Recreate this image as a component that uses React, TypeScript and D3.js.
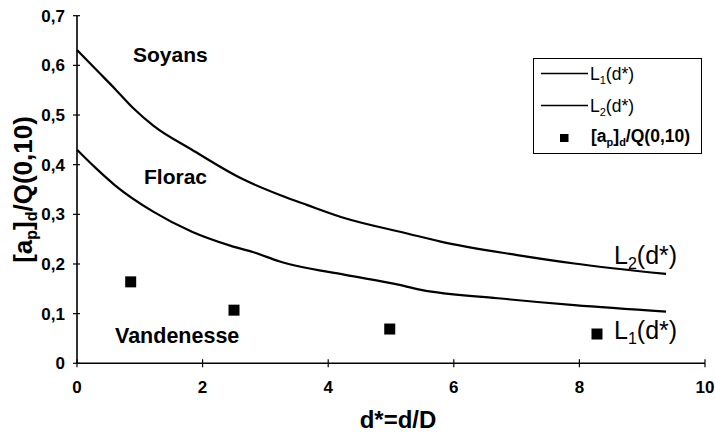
import React from "react";
import * as d3 from "d3";

const xTicks = [0, 2, 4, 6, 8, 10];
const yTicks = [0, 0.1, 0.2, 0.3, 0.4, 0.5, 0.6, 0.7];
const yTickLabels = ["0", "0,1", "0,2", "0,3", "0,4", "0,5", "0,6", "0,7"];

const l2X = [0, 0.3, 0.61, 0.91, 1.22, 1.83, 2.62, 3.23, 3.66, 4.27, 5.24, 5.79, 7.01, 7.92, 9.38];
const l2Y = [0.631, 0.592, 0.552, 0.512, 0.478, 0.43, 0.372, 0.339, 0.319, 0.292, 0.262, 0.245, 0.218, 0.201, 0.18];

const l1X = [0, 0.3, 0.61, 1.22, 1.83, 2.44, 2.8, 3.23, 4.27, 5.06, 5.48, 6.7, 7.92, 9.38];
const l1Y = [0.43, 0.393, 0.358, 0.305, 0.265, 0.237, 0.224, 0.205, 0.178, 0.16, 0.148, 0.131, 0.117, 0.104];

const ptX = [0.855, 2.5, 4.98, 8.28];
const ptY = [0.164, 0.107, 0.069, 0.059];

const FONT = "'Liberation Sans', Arial, sans-serif";

export default function App() {
  const x = d3.scaleLinear().domain([0, 10]).range([77, 705]);
  const y = d3.scaleLinear().domain([0, 0.7]).range([363.3, 15.7]);
  const line = d3
    .line<[number, number]>()
    .x((d) => x(d[0]))
    .y((d) => y(d[1]))
    .curve(d3.curveMonotoneX);
  const l1 = line(l1X.map((v, i) => [v, l1Y[i]]) as [number, number][]) || "";
  const l2 = line(l2X.map((v, i) => [v, l2Y[i]]) as [number, number][]) || "";
  const ms = 11;

  return (
    <svg
      width={715}
      height={434}
      style={{ position: "absolute", left: 0, top: 0, background: "#fff" }}
      fontFamily={FONT}
    >
      <rect x={0} y={0} width={715} height={434} fill="#fff" />
      {/* axes */}
      <line x1={x(0)} x2={x(0)} y1={y(0.7)} y2={y(0)} stroke="#000" strokeWidth={1.6} />
      <line x1={x(0)} x2={x(10)} y1={y(0)} y2={y(0)} stroke="#000" strokeWidth={1.6} />
      {yTicks.map((t, i) => (
        <g key={"yt" + i}>
          <line x1={x(0) - 4} x2={x(0) + 3} y1={y(t)} y2={y(t)} stroke="#000" strokeWidth={1.2} />
          <text
            x={65}
            y={y(t) + 6}
            textAnchor="end"
            fontSize={17}
            fontWeight="bold"
          >
            {yTickLabels[i]}
          </text>
        </g>
      ))}
      {xTicks.map((t, i) => (
        <g key={"xt" + i}>
          <line x1={x(t)} x2={x(t)} y1={y(0) - 4} y2={y(0) + 4} stroke="#000" strokeWidth={1.2} />
          <text x={x(t)} y={393} textAnchor="middle" fontSize={17} fontWeight="bold">
            {String(t)}
          </text>
        </g>
      ))}
      {/* axis titles */}
      <text x={398} y={428} textAnchor="middle" fontSize={24} fontWeight="bold">
        d*=d/D
      </text>
      <text
        transform={`translate(32, ${(y(0) + y(0.7)) / 2}) rotate(-90)`}
        textAnchor="middle"
        fontSize={26}
        fontWeight="bold"
      >
        [a<tspan fontSize={16} dy={5}>p</tspan>
        <tspan dy={-5}>]</tspan>
        <tspan fontSize={16} dy={5}>d</tspan>
        <tspan dy={-5}>/Q(0,10)</tspan>
      </text>
      {/* curves */}
      <path d={l2} fill="none" stroke="#000" strokeWidth={2.2} />
      <path d={l1} fill="none" stroke="#000" strokeWidth={2.2} />
      {/* points */}
      {ptX.map((v, i) => (
        <rect
          key={"p" + i}
          x={x(v) - ms / 2}
          y={y(ptY[i]) - ms / 2}
          width={ms}
          height={ms}
          fill="#000"
        />
      ))}
      {/* site labels */}
      <text x={133} y={62} fontSize={21} fontWeight="bold">Soyans</text>
      <text x={144} y={184} fontSize={21} fontWeight="bold">Florac</text>
      <text x={115} y={343} fontSize={21.5} fontWeight="bold">Vandenesse</text>
      {/* curve end labels */}
      <text x={614} y={264} fontSize={25}>
        L<tspan fontSize={16} dy={5}>2</tspan>
        <tspan dy={-5}>(d*)</tspan>
      </text>
      <text x={614} y={339} fontSize={25}>
        L<tspan fontSize={16} dy={5}>1</tspan>
        <tspan dy={-5}>(d*)</tspan>
      </text>
      {/* legend */}
      <rect x={533.5} y={58.5} width={168} height={95} fill="#fff" stroke="#000" strokeWidth={1} />
      <line x1={541} x2={588} y1={73.5} y2={73.5} stroke="#000" strokeWidth={1.5} />
      <text x={590} y={79.5} fontSize={17.5}>
        L<tspan fontSize={11} dy={4}>1</tspan>
        <tspan dy={-4}>(d*)</tspan>
      </text>
      <line x1={541} x2={588} y1={105.5} y2={105.5} stroke="#000" strokeWidth={1.5} />
      <text x={590} y={111.5} fontSize={17.5}>
        L<tspan fontSize={11} dy={4}>2</tspan>
        <tspan dy={-4}>(d*)</tspan>
      </text>
      <rect x={560} y={134} width={8.5} height={8} fill="#000" />
      <text x={591} y={142} fontSize={17.5} fontWeight="bold">
        [a<tspan fontSize={11} dy={4}>p</tspan>
        <tspan dy={-4}>]</tspan>
        <tspan fontSize={11} dy={4}>d</tspan>
        <tspan dy={-4}>/Q(0,10)</tspan>
      </text>
    </svg>
  );
}
